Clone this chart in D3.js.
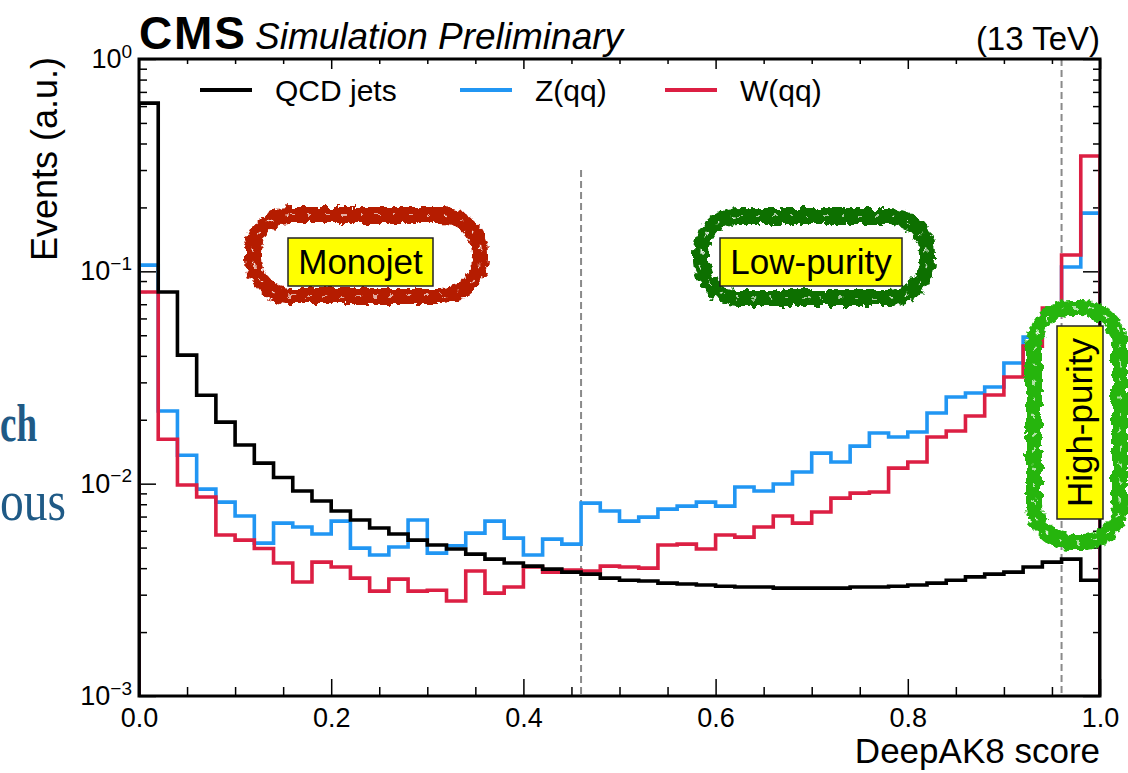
<!DOCTYPE html>
<html>
<head>
<meta charset="utf-8">
<script src="https://cdn.jsdelivr.net/npm/d3@7"></script>
<style>
  html, body { margin: 0; padding: 0; background: #fff; }
  svg { display: block; font-family: "Liberation Sans", Arial, Helvetica, sans-serif; }
</style>
</head>
<body>
<div id="chart"></div>
<script>
// binned DeepAK8 score distributions, 50 bins from 0 to 1 (normalised, a.u.)
const binCount = 50;
const qcd = [0.620, 0.0799, 0.0403, 0.0261, 0.0195, 0.0152, 0.0125, 0.0107, 0.00923, 0.00828,
             0.00743, 0.00674, 0.00618, 0.00579, 0.00542, 0.00514, 0.00492, 0.00466, 0.00441, 0.00423,
             0.00409, 0.00396, 0.00383, 0.00375, 0.00359, 0.00351, 0.00348, 0.00340, 0.00337, 0.00333,
             0.00329, 0.00326, 0.00326, 0.00322, 0.00322, 0.00322, 0.00322, 0.00326, 0.00326, 0.00329,
             0.00333, 0.00340, 0.00351, 0.00364, 0.00375, 0.00383, 0.00405, 0.00427, 0.00441, 0.00351];
const zqq = [0.107, 0.0220, 0.0136, 0.00943, 0.00819, 0.00704, 0.00525, 0.00652, 0.00625, 0.00579,
             0.00666, 0.00497, 0.00461, 0.00503, 0.00674, 0.00471, 0.00510, 0.00585, 0.00666, 0.00554,
             0.00461, 0.00548, 0.00519, 0.00810, 0.00743, 0.00666, 0.00696, 0.00759, 0.00784, 0.00819,
             0.00784, 0.00964, 0.00923, 0.00996, 0.01134, 0.01393, 0.01264, 0.01503, 0.01731, 0.01658,
             0.01750, 0.02151, 0.02558, 0.02672, 0.02851, 0.0370, 0.0490, 0.063, 0.1048, 0.188];
const wqq = [0.0799, 0.0162, 0.00985, 0.00865, 0.00573, 0.00542, 0.00495, 0.00423, 0.00344, 0.00427,
             0.00405, 0.00359, 0.00312, 0.00355, 0.00312, 0.00315, 0.00280, 0.00388, 0.00305, 0.00326,
             0.00405, 0.00383, 0.00392, 0.00388, 0.00409, 0.00405, 0.00400, 0.00514, 0.00519, 0.00492,
             0.00573, 0.00560, 0.00625, 0.00704, 0.00652, 0.00735, 0.00855, 0.00903, 0.00913, 0.01184,
             0.01264, 0.01658, 0.01769, 0.02082, 0.02614, 0.03178, 0.04446, 0.0671, 0.1193, 0.349];

const seriesNames = ["QCD jets", "Z(qq)", "W(qq)"];
const seriesColors = ["#000000", "#2196f3", "#dc1f43"];

const xMajorTicks = [0, 0.2, 0.4, 0.6, 0.8, 1.0];
const xMinorTicks = [0.05, 0.1, 0.15, 0.25, 0.3, 0.35, 0.45, 0.5, 0.55, 0.65, 0.7, 0.75, 0.85, 0.9, 0.95];
const yMajorTicks = [1e-3, 1e-2, 1e-1, 1];
const yExponents = ["\u22123", "\u22122", "\u22121", "0"];

// working-point cuts (dashed) and how high each line reaches
const cutValues = [0.46, 0.96];
const cutTops = [0.3, 1];

const regionNames = ["Monojet", "Low-purity", "High-purity"];

const W = 1128, H = 773;
const pL = 139, pR = 1100, pT = 59, pB = 696;

const svg = d3.select("#chart").append("svg")
    .attr("width", W)
    .attr("height", H);

svg.append("rect").attr("width", W).attr("height", H).attr("fill", "#fff");

const defs = svg.append("defs");
defs.append("clipPath").attr("id", "plotclip")
  .append("rect").attr("x", pL).attr("y", pT).attr("width", pR - pL).attr("height", pB - pT);

// rough "brush" look for the hand drawn rings
const rough = defs.append("filter").attr("id", "rough")
    .attr("x", "-15%").attr("y", "-15%").attr("width", "130%").attr("height", "130%");
rough.append("feTurbulence").attr("type", "fractalNoise").attr("baseFrequency", 0.14)
    .attr("numOctaves", 3).attr("seed", 7).attr("result", "noise");
rough.append("feDisplacementMap").attr("in", "SourceGraphic").attr("in2", "noise")
    .attr("scale", 10).attr("xChannelSelector", "R").attr("yChannelSelector", "G");

// background slide text peeking in on the left
svg.append("text").attr("x", 0).attr("y", 441)
    .attr("textLength", 37).attr("lengthAdjust", "spacingAndGlyphs")
    .style("font-family", "'Liberation Serif', 'DejaVu Serif', serif")
    .style("font-weight", "bold").style("font-size", "52px")
    .attr("fill", "#1f5a86").text("ch");
svg.append("text").attr("x", 0).attr("y", 520)
    .attr("textLength", 66).attr("lengthAdjust", "spacingAndGlyphs")
    .style("font-family", "'Liberation Serif', 'DejaVu Serif', serif")
    .style("font-size", "56px")
    .attr("fill", "#1f5a86").text("ous");

const x = d3.scaleLinear().domain([0, 1]).range([pL, pR]);
const y = d3.scaleLog().domain([1e-3, 1]).range([pB, pT]);

// axes (ticks pointing inwards)
svg.append("g").attr("transform", `translate(0,${pB})`)
    .call(d3.axisBottom(x).tickValues(xMajorTicks).tickSize(-17).tickPadding(12).tickFormat(d3.format(".1f")));
svg.append("g").attr("transform", `translate(0,${pB})`)
    .call(d3.axisBottom(x).tickValues(xMinorTicks).tickSize(-9).tickFormat(""));
svg.append("g").attr("transform", `translate(0,${pT})`)
    .call(d3.axisTop(x).tickValues(xMajorTicks).tickSize(-10).tickFormat(""));
svg.append("g").attr("transform", `translate(0,${pT})`)
    .call(d3.axisTop(x).tickValues(xMinorTicks).tickSize(-5).tickFormat(""));

const yMinor = [];
[-3, -2, -1].forEach(e => { for (let k = 2; k <= 9; k++) yMinor.push(k * Math.pow(10, e)); });

const gy = svg.append("g").attr("transform", `translate(${pL},0)`)
    .call(d3.axisLeft(y).tickValues(yMajorTicks).tickSize(-17).tickPadding(7).tickFormat(() => "10"));
svg.append("g").attr("transform", `translate(${pL},0)`)
    .call(d3.axisLeft(y).tickValues(yMinor).tickSize(-8).tickFormat(""));
svg.append("g").attr("transform", `translate(${pR},0)`)
    .call(d3.axisRight(y).tickValues(yMajorTicks).tickSize(-17).tickFormat(""));
svg.append("g").attr("transform", `translate(${pR},0)`)
    .call(d3.axisRight(y).tickValues(yMinor).tickSize(-7).tickFormat(""));

gy.selectAll(".tick text").each(function(d, i) {
  d3.select(this).append("tspan").attr("dy", "-0.55em").style("font-size", "19px").text(yExponents[i]);
});

svg.selectAll(".domain").remove();
svg.selectAll(".tick line").attr("stroke", "#000").attr("stroke-width", 1.5);
svg.selectAll(".tick text").attr("fill", "#000").style("font-size", "27px")
    .style("font-family", "'Liberation Sans', Arial, sans-serif");

// dashed working points
svg.append("g").selectAll("line").data(cutValues).join("line")
    .attr("x1", d => x(d)).attr("x2", d => x(d))
    .attr("y1", (d, i) => y(cutTops[i])).attr("y2", pB)
    .attr("stroke", "#8a8a8a").attr("stroke-width", 2).attr("stroke-dasharray", "7,4");

// histograms
const binW = 1 / binCount;
function stepPoints(vals) {
  const pts = [[0, 1e-3]];
  vals.forEach((v, i) => { pts.push([i * binW, v]); pts.push([(i + 1) * binW, v]); });
  pts.push([1, 1e-3]);
  return pts;
}
const line = d3.line().x(d => x(d[0])).y(d => y(d[1]));
const allSeries = [qcd, zqq, wqq];
svg.append("g").attr("clip-path", "url(#plotclip)")
  .selectAll("path").data([1, 2, 0]).join("path")
    .attr("d", k => line(stepPoints(allSeries[k])))
    .attr("fill", "none")
    .attr("stroke", k => seriesColors[k])
    .attr("stroke-width", 3.6)
    .attr("stroke-linejoin", "miter");

// frame
svg.append("rect").attr("x", pL).attr("y", pT).attr("width", pR - pL).attr("height", pB - pT)
    .attr("fill", "none").attr("stroke", "#000").attr("stroke-width", 3);

// legend
const legendX = [200, 460, 665];
const leg = svg.append("g").selectAll("g").data(seriesNames).join("g")
    .attr("transform", (d, i) => `translate(${legendX[i]},90)`);
leg.append("line").attr("x1", 0).attr("x2", 52).attr("y1", 0).attr("y2", 0)
    .attr("stroke", (d, i) => seriesColors[i]).attr("stroke-width", 4);
leg.append("text").attr("x", 75).attr("y", 11).style("font-size", "30px").text(d => d);

// header
svg.append("text").attr("x", 139).attr("y", 49).style("font-size", "46px").style("font-weight", "bold")
    .attr("textLength", 106).text("CMS");
svg.append("text").attr("x", 255).attr("y", 49).style("font-size", "37px").style("font-style", "italic")
    .text("Simulation Preliminary");
svg.append("text").attr("x", 1100).attr("y", 50).attr("text-anchor", "end").style("font-size", "33px")
    .text("(13 TeV)");

// axis titles
svg.append("text").attr("x", 1100).attr("y", 763).attr("text-anchor", "end").style("font-size", "35px")
    .text("DeepAK8 score");
svg.append("text").attr("transform", "translate(57,57) rotate(-90)").attr("text-anchor", "end")
    .style("font-size", "36px").text("Events (a.u.)");

// highlighted regions: brushed ring + yellow tag
const rings = [
  { rx: 253, ry: 215, w: 227, h: 81, color: "#b51a00" },
  { rx: 701, ry: 216, w: 226, h: 82, color: "#0a6f05" },
  { rx: 1034, ry: 308, w: 86, h: 234, color: "#25b510" }
];
const tags = [
  { x: 288, y: 238, w: 145, h: 48, rot: false },
  { x: 720, y: 238, w: 182, h: 48, rot: false },
  { x: 1057, y: 326, w: 46, h: 193, rot: true }
];
const ann = svg.append("g");
rings.forEach((r, i) => {
  ann.append("rect").attr("x", r.rx).attr("y", r.ry).attr("width", r.w).attr("height", r.h)
      .attr("rx", 38).attr("fill", "none").attr("stroke", r.color).attr("stroke-width", 16)
      .attr("filter", "url(#rough)");
  ann.append("rect").attr("x", r.rx).attr("y", r.ry).attr("width", r.w).attr("height", r.h)
      .attr("rx", 38).attr("fill", "none").attr("stroke", "#fff").attr("stroke-width", 1.5)
      .attr("stroke-dasharray", "4,13").attr("opacity", 0.85).attr("filter", "url(#rough)");
  const t = tags[i];
  ann.append("rect").attr("x", t.x).attr("y", t.y).attr("width", t.w).attr("height", t.h)
      .attr("fill", "#ffff00").attr("stroke", "#222").attr("stroke-width", 1.5);
  const cxT = t.x + t.w / 2, cyT = t.y + t.h / 2;
  ann.append("text")
      .attr("transform", t.rot ? `translate(${cxT + 12},${cyT}) rotate(-90)` : `translate(${cxT},${cyT + 12})`)
      .attr("text-anchor", "middle").style("font-size", "35px").text(regionNames[i]);
});
</script>
</body>
</html>
